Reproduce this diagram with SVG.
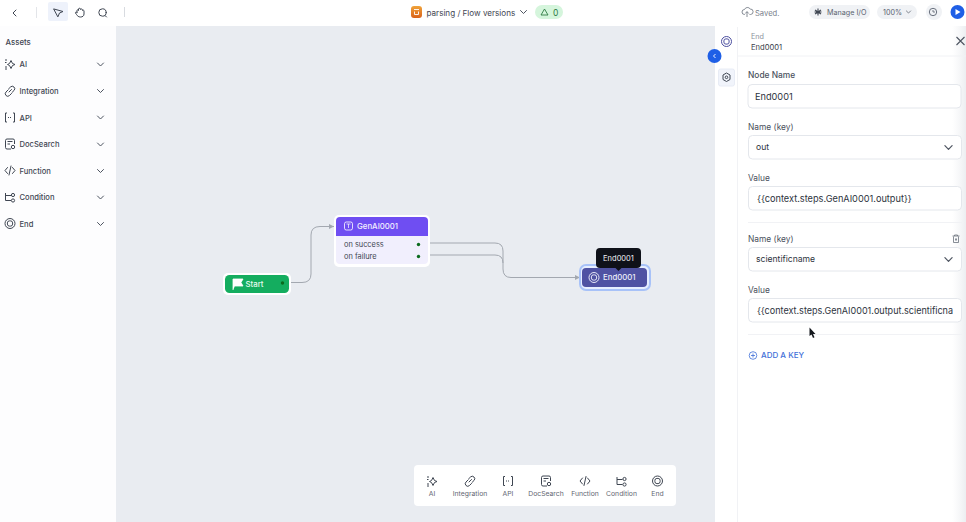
<svg xmlns="http://www.w3.org/2000/svg" width="966" height="522" viewBox="0 0 966 522">
<style>
text{font-family:Inter,"Liberation Sans",sans-serif}
.side{font-size:7.600px;font-weight:500;fill:#3f4652}
.ic{fill:none;stroke:#3f4652;stroke-width:1;stroke-linecap:round;stroke-linejoin:round}
.dock{font-size:6.800px;fill:#5f6672;text-anchor:middle}
.lab{font-size:8.400px;fill:#4a515d}
.field{fill:#fff;stroke:#e4e7ec;stroke-width:1}
.val{font-size:9.200px;fill:#2d333d}
.conn{fill:none;stroke:#a3a8b0;stroke-width:1}
.dot{fill:#0b6b1e}
.div{stroke:#f1f2f5;stroke-width:1}
</style>
<defs>
<marker id="arr" markerWidth="6" markerHeight="6" refX="5" refY="3" orient="auto"><path d="M0 0.500L5 3L0 5.500Z" fill="#a3a8b0"/></marker>
<linearGradient id="ico" x1="0" y1="0" x2="0" y2="1"><stop offset="0" stop-color="#f0a33a"/><stop offset="1" stop-color="#d9621a"/></linearGradient>
<linearGradient id="edge" x1="0" y1="0" x2="1" y2="0"><stop offset="0" stop-color="#f2f3f5" stop-opacity="0"/><stop offset="1" stop-color="#eceef1"/></linearGradient>
<path id="chev" d="M-3-1.500L0 1.500L3-1.500" fill="none" stroke="#4d5460" stroke-width="1" stroke-linecap="round" stroke-linejoin="round"/>
<g id="endic"><circle r="5" fill="none" stroke="currentColor" stroke-width="1"/><rect x="-2.600" y="-2.600" width="5.200" height="5.200" rx="2" fill="none" stroke="currentColor" stroke-width="1"/></g>
<g id="aiic"><path d="M1-3.500L2.500-.5L5 .5L2.500 1.500L1 4.500L-.5 1.500L-2.500 .5L-.5-.5Z" fill="none" stroke="currentColor" stroke-width="1"/><path d="M-5-4H-3M-5-1.500H-3.500M-5 3H-3M-5 5H-3" stroke="currentColor" stroke-width="1"/></g>
<g id="linkic"><path d="M-1 1L1.500-1.500M-1.500-2L.5-4A2.400 2.400 0 0 1 4-.5L2 1.500M1.500 2.500L-.5 4.500A2.400 2.400 0 0 1-4 1L-2 -1" fill="none" stroke="currentColor" stroke-width="1" stroke-linecap="round"/></g>
<g id="apiic"><path d="M-3-4.500H-4.500V4.500H-3M3-4.500H4.500V4.500H3" fill="none" stroke="currentColor" stroke-width="1"/><path d="M-2 0H2" stroke="currentColor" stroke-width="1" stroke-dasharray="1 1"/></g>
<g id="docic"><path d="M1 5H-3A1.500 1.500 0 0 1-4.500 3.500V-3.500A1.500 1.500 0 0 1-3-5H3A1.500 1.500 0 0 1 4.500-3.500V0M-2.500-2.500H2.500M-2.500 0H0" fill="none" stroke="currentColor" stroke-width="1"/><circle cx="3" cy="3" r="1.700" fill="none" stroke="currentColor" stroke-width="1"/></g>
<g id="fnic"><path d="M-2.500-3L-5 0L-2.500 3M2.500-3L5 0L2.500 3M1-4.500L-1 4.500" fill="none" stroke="currentColor" stroke-width="1" stroke-linecap="round" stroke-linejoin="round"/></g>
<g id="condic"><path d="M-4.500-4V3.500H1M-4.500-1.500H1" fill="none" stroke="currentColor" stroke-width="1"/><circle cx="3" cy="-2" r="1.600" fill="none" stroke="currentColor"/><circle cx="3" cy="3.500" r="1.600" fill="none" stroke="currentColor"/></g>
</defs>
<rect width="966" height="522" fill="#fff"/>
<rect x="116" y="26" width="599" height="496" fill="#e9ecf1"/>
<rect x="0" y="26" width="116" height="496" fill="#fdfdfe"/>

<g id="toolbar">
<path d="M16 10L13 13L16 16" class="ic"/>
<path d="M36.500 7V18" stroke="#e3e5e9"/>
<rect x="48" y="2" width="20" height="19" rx="2" fill="#eef2fb"/>
<path d="M54 9L63 11.500L59.500 13L58 16.500Z" class="ic"/>
<path d="M77 12.500V10.500C77 9.500 78.500 9.500 78.500 10.500V9C78.500 8 80.500 8 80.500 9V9.500C80.500 8.700 82.500 8.700 82.500 10V10.500C82.500 9.800 84 9.800 84 11V14C84 16 82.500 17 80.500 17C78.500 17 77.500 16 76.500 14.500L75.500 13C75.200 12 76.500 11.500 77 12.500Z" class="ic"/>
<circle cx="102.500" cy="12.500" r="3.700" class="ic"/><path d="M105 15.500L106.500 17" class="ic"/>
<path d="M124.500 7V17" stroke="#d8dbe0"/>
<rect x="411" y="6" width="11" height="12" rx="3" fill="url(#ico)"/><path d="M414 9.500H419M414.500 11.500V14.500H418.500V11.500" fill="none" stroke="#fff" stroke-width="0.900"/>
<text x="426.500" y="15.500" font-size="8.100" fill="#3f4652">parsing / Flow versions</text>
<use href="#chev" x="523.500" y="12"/>
<rect x="535" y="5" width="28" height="14" rx="7" fill="#d5f5dc"/>
<path d="M544.500 9L548 15H541Z" fill="none" stroke="#2f7a44" stroke-width="0.900"/>
<text x="553" y="15.500" font-size="8.500" fill="#2f7a44">0</text>
<path d="M745 14.500H744.500A2.500 2.500 0 0 1 744.500 9.500A3.200 3.200 0 0 1 750.200 9A2.500 2.500 0 0 1 750.500 14.500H749.500M747 17V12M745.300 13.500L747 11.500L748.700 13.500" fill="none" stroke="#6a717c" stroke-width="0.800"/>
<text x="755" y="15.500" font-size="7.600" fill="#7a818c">Saved.</text>
<rect x="809" y="5" width="61" height="14" rx="7" fill="#f0f2f5"/>
<path d="M818 8.500V15.500M815 10L821 14M815 14L821 10M814.500 12H821.500" stroke="#3f4652" stroke-width="1.100"/>
<text x="827" y="15" font-size="7.200" fill="#5a6270">Manage I/O</text>
<rect x="877" y="5" width="40" height="14" rx="7" fill="#f0f2f5"/>
<text x="883" y="15" font-size="7.200" fill="#5a6270">100%</text>
<use href="#chev" transform="translate(908.500 12) scale(.7)"/>
<circle cx="934" cy="12" r="8" fill="#f0f2f5"/><circle cx="933" cy="12" r="3.700" fill="none" stroke="#5a6270" stroke-width="0.900"/><path d="M933 10V12H935" fill="none" stroke="#5a6270" stroke-width="0.800"/>
<circle cx="957.500" cy="12" r="7" fill="#1f5fe6"/><path d="M955.500 9L960.500 12L955.500 15Z" fill="#fff"/>
</g>

<g id="sidebar">
<text x="5.500" y="44.500" font-size="7.800" font-weight="500" fill="#3f4652">Assets</text>
<g color="#3f4652">
<use href="#aiic" x="10" y="64"/><text class="side" x="19.500" y="67">AI</text><use href="#chev" x="100.500" y="64.500"/>
<use href="#linkic" x="10" y="91"/><text class="side" x="19.500" y="94">Integration</text><use href="#chev" x="100.500" y="91"/>
<use href="#apiic" x="10" y="117.500"/><text class="side" x="19.500" y="120.500">API</text><use href="#chev" x="100.500" y="117.500"/>
<use href="#docic" x="10" y="144"/><text class="side" x="19.500" y="147">DocSearch</text><use href="#chev" x="100.500" y="144.500"/>
<use href="#fnic" x="10" y="170.500"/><text class="side" x="19.500" y="173.500">Function</text><use href="#chev" x="100.500" y="171"/>
<use href="#condic" x="10" y="197"/><text class="side" x="19.500" y="200">Condition</text><use href="#chev" x="100.500" y="197.500"/>
<use href="#endic" x="10" y="223.500"/><text class="side" x="19.500" y="226.500">End</text><use href="#chev" x="100.500" y="224"/>
</g>
</g>

<g id="connectors">
<path class="conn" d="M291 282.500H302Q311 282.500 311 274V235Q311 226.500 320 226.500H334" marker-end="url(#arr)"/>
<path class="conn" d="M430 243H495Q503 243 503 251V269Q503 277.500 511 277.500H580" marker-end="url(#arr)"/>
<path class="conn" d="M430 255H495Q503 255 503 263"/>
</g>

<g id="node-start">
<rect x="223" y="273" width="68" height="22" rx="5" fill="#fff"/>
<rect x="225" y="275" width="64" height="18" rx="4.500" fill="#14ad5f"/>
<path d="M233 290V279H243L241 282.500L243 286H235" fill="#fff" stroke="#fff" stroke-width="0.800"/>
<text x="245.500" y="286.500" font-size="7.800" font-weight="500" fill="#e9fbf0">Start</text>
<circle class="dot" cx="282.500" cy="283" r="1.700"/>
</g>

<g id="node-genai">
<rect x="334" y="215" width="96" height="52" rx="5" fill="#fff"/>
<path d="M336 221A4 4 0 0 1 340 217H424A4 4 0 0 1 428 221V236H336Z" fill="#6f4ef2"/>
<path d="M336 236H428V260A4 4 0 0 1 424 264H340A4 4 0 0 1 336 260Z" fill="#f1effd"/>
<rect x="344.500" y="222" width="8" height="8" rx="1.800" fill="none" stroke="#fff" stroke-width="0.800"/><path d="M346.500 224H350.500M348.500 224V228" stroke="#fff" stroke-width="0.700" fill="none"/>
<text x="357" y="229" font-size="7.800" font-weight="500" fill="#f3f0ff">GenAI0001</text>
<text x="344" y="246.500" font-size="7.400" fill="#3f4652">on success</text>
<text x="344" y="258.500" font-size="7.400" fill="#3f4652">on failure</text>
<circle class="dot" cx="418.500" cy="244.500" r="1.700"/>
<circle class="dot" cx="418.500" cy="256.500" r="1.700"/>
</g>

<g id="node-end">
<rect x="580" y="265" width="70" height="25" rx="6" fill="#e6eeff" stroke="#a8c2f8" stroke-width="2"/>
<rect x="582" y="268" width="65" height="19" rx="4" fill="#4f52a3"/>
<use href="#endic" x="594" y="277.500" color="#e7e8f7"/>
<text x="603" y="280" font-size="7.800" font-weight="500" fill="#eceefa">End0001</text>
<rect x="596" y="248" width="45" height="20" rx="4" fill="#0f1119"/>
<path d="M615.500 268H621.500L618.500 271Z" fill="#0f1119"/>
<text x="618.500" y="261" font-size="7.500" fill="#f1f2f5" text-anchor="middle">End0001</text>
</g>

<g id="dock">
<rect x="414" y="465" width="262" height="41" rx="4" fill="#fff"/>
<g color="#3f4652">
<use href="#aiic" x="432" y="481"/><text class="dock" x="432" y="496">AI</text>
<use href="#linkic" x="470" y="481"/><text class="dock" x="470" y="496">Integration</text>
<use href="#apiic" x="508" y="481"/><text class="dock" x="508" y="496">API</text>
<use href="#docic" x="546" y="481"/><text class="dock" x="546" y="496">DocSearch</text>
<use href="#fnic" x="585" y="481"/><text class="dock" x="585" y="496">Function</text>
<use href="#condic" x="621.500" y="481"/><text class="dock" x="621.500" y="496">Condition</text>
<use href="#endic" x="657.500" y="481"/><text class="dock" x="657.500" y="496">End</text>
</g>
</g>

<g id="panel">
<rect x="715" y="26" width="251" height="496" fill="#fff"/>
<rect x="952" y="26" width="14" height="496" fill="url(#edge)"/>
<path d="M737.500 27V522" class="div"/>
<path d="M737.500 56H966" class="div"/>
<use href="#endic" x="726.500" y="41.500" color="#4b4e9f"/>
<text x="751" y="39" font-size="7.200" fill="#8c929c">End</text>
<text x="751" y="49.500" font-size="7.600" fill="#3a404b">End0001</text>
<path d="M956.500 37L964.500 45M964.500 37L956.500 45" stroke="#4d5460" stroke-width="1.100" fill="none"/>
<circle cx="714.500" cy="56" r="7" fill="#1f5fe6"/><path d="M715.500 54L713.500 56L715.500 58" fill="none" stroke="#fff" stroke-width="0.900"/>
<rect x="718.500" y="69" width="16" height="17" rx="2" fill="#f1f4fb" stroke="#e8ecf5"/>
<path d="M726.500 73L730 75V79.500L726.500 81.500L723 79.500V75Z" fill="none" stroke="#3f4652" stroke-width="1"/><circle cx="726.500" cy="77.300" r="1.300" fill="none" stroke="#3f4652"/>
<text class="lab" x="748" y="77.500" font-weight="500">Node Name</text>
<rect class="field" x="748" y="84.500" width="213" height="23.500" rx="4"/>
<text class="val" x="755" y="99.500">End0001</text>
<text class="lab" x="748" y="129.500">Name (key)</text>
<rect class="field" x="748.500" y="135.500" width="213" height="23.500" rx="4"/>
<text x="756" y="150" font-size="8.600" fill="#2d333d">out</text>
<use href="#chev" transform="translate(948.500 147.500) scale(1.200)"/>
<text class="lab" x="748" y="180.500">Value</text>
<rect class="field" x="748.500" y="186.500" width="213" height="23.500" rx="4"/>
<text class="val" x="757" y="201.500">{{context.steps.GenAI0001.output}}</text>
<path d="M748 222.500H962" class="div"/>
<text class="lab" x="748" y="241.500">Name (key)</text>
<path d="M952.500 236H959.500M954.500 236V235H957.500V236M953.500 236.500V242.500H958.500V236.500M955.500 238.500V240.500M956.500 238.500V240.500" fill="none" stroke="#6a717c" stroke-width="0.800"/>
<rect class="field" x="748.500" y="247.500" width="213" height="23.500" rx="4"/>
<text x="756" y="262" font-size="8.600" fill="#2d333d">scientificname</text>
<use href="#chev" transform="translate(948.500 259.500) scale(1.200)"/>
<text class="lab" x="748" y="292.500">Value</text>
<rect class="field" x="748.500" y="298.500" width="213" height="23.500" rx="4"/>
<text class="val" x="757" y="314" textLength="196" lengthAdjust="spacingAndGlyphs">{{context.steps.GenAI0001.output.scientificna</text>
<path d="M748 334.500H962" class="div"/>
<circle cx="753" cy="355.500" r="3.800" fill="none" stroke="#3f6fd8" stroke-width="0.800"/><path d="M751 355.500H755M753 353.500V357.500" stroke="#3f6fd8" stroke-width="0.800"/>
<text x="761" y="358" font-size="8" font-weight="500" fill="#3f6fd8">ADD A KEY</text>
<path d="M809.500 327.500V336L811.500 334.500L813 338L814.500 337.300L813 334H815.500Z" fill="#15181e"/>
</g>
</svg>
